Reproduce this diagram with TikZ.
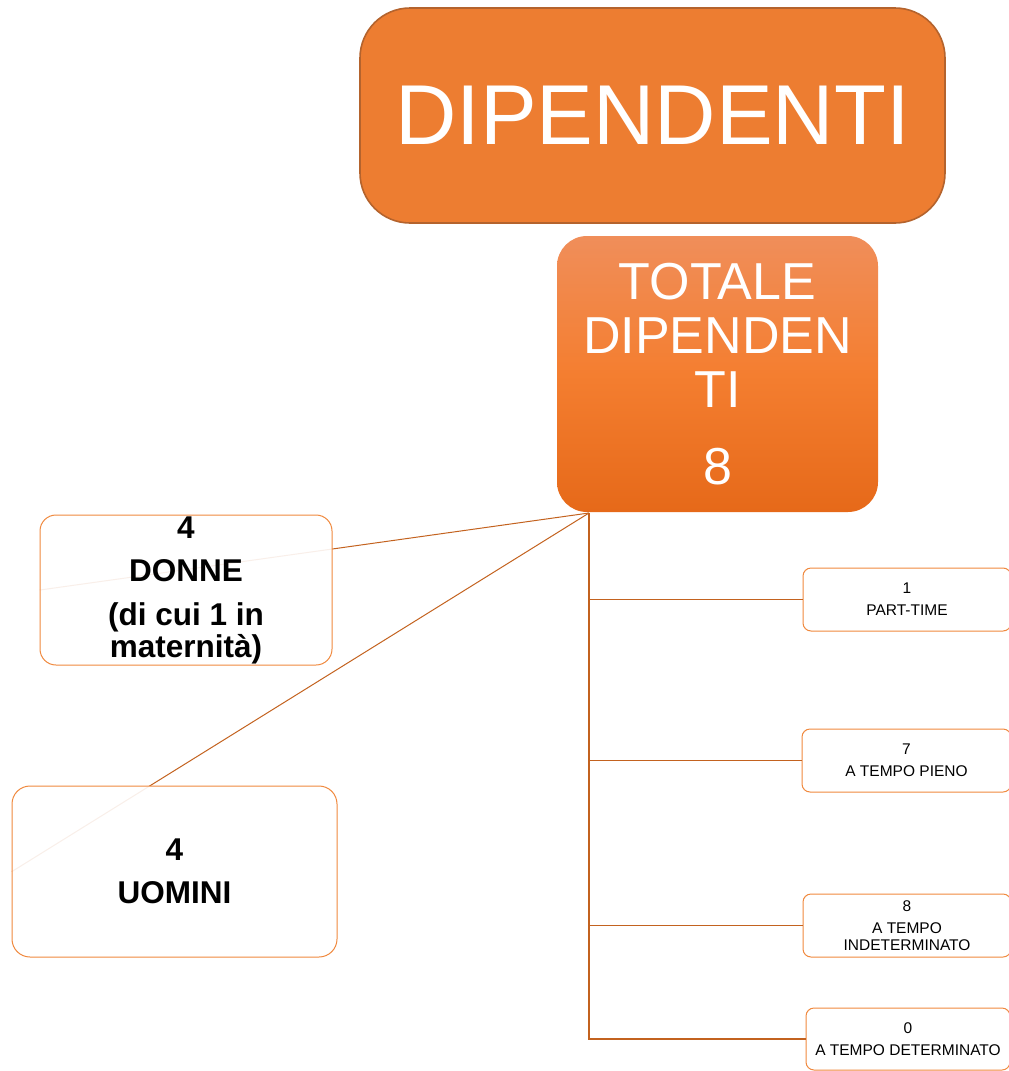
\documentclass[tikz,border=0pt]{standalone}
\usepackage{fontspec}
\setmainfont{Liberation Sans}
\definecolor{orangefill}{HTML}{ED7D31}
\definecolor{orangedark}{HTML}{B4632D}
\definecolor{linkcol}{HTML}{C3621F}
\definecolor{boxline}{HTML}{F0893E}
\definecolor{gradtop}{HTML}{F08E5A}
\definecolor{gradmid}{HTML}{F47E30}
\definecolor{gradbot}{HTML}{E66919}
\begin{document}
\begin{tikzpicture}[x=1pt,y=-1pt,
  titlebox/.style={draw=orangedark,line width=1.6pt,fill=orangefill,rounded corners=50pt,
    text=white,font=\fontsize{85}{90}\selectfont,inner sep=0pt,align=center},
  totalbox/.style={rounded corners=30pt,top color=gradtop,bottom color=gradbot,middle color=gradmid,
    text=white,font=\fontsize{52}{54}\selectfont,inner sep=0pt,align=center},
  bigbox/.style={draw=boxline,line width=1pt,fill=white,fill opacity=0.9,text opacity=1,
    rounded corners=16pt,font=\bfseries\fontsize{31.5}{32}\selectfont,inner sep=0pt,align=center},
  smallbox/.style={draw=boxline,line width=1pt,fill=white,rounded corners=8pt,
    font=\fontsize{15.5}{17}\selectfont,inner sep=0pt,align=center},
  link/.style={draw=linkcol,line width=1pt},
  trunk/.style={draw=linkcol,line width=1.2pt}
]
\useasboundingbox (0,0) rectangle (1009,1071);

\node[titlebox,minimum width=585pt,minimum height=215pt] (title) at (652.5,115.5) {DIPENDENTI};

\node[totalbox,minimum width=321pt,minimum height=276pt] (tot) at (717.5,374) {TOTALE\\DIPENDEN\\TI\\[23pt]8};

\coordinate (hub) at (589,513);

% right-hand boxes
\node[smallbox,minimum width=208pt,minimum height=63pt] (pt) at (907,599.5) {1\\[5pt]PART-TIME};
\node[smallbox,minimum width=209pt,minimum height=63pt] (pieno) at (906.5,760.5) {7\\[5pt]A TEMPO PIENO};
\node[smallbox,minimum width=208pt,minimum height=63pt] (indet) at (907,925.5) {8\\[5pt]A TEMPO\\INDETERMINATO};
\node[smallbox,minimum width=204pt,minimum height=62pt] (det) at (908,1039) {0\\[5pt]A TEMPO DETERMINATO};

\draw[trunk] (hub) |- (pt.west);
\draw[trunk] (hub) |- (pieno.west);
\draw[trunk] (hub) |- (indet.west);
\draw[trunk] (hub) |- (det.west);

% left boxes: links pass beneath semi-transparent boxes
\coordinate (dw) at (40,590);
\coordinate (uw) at (12,871.5);
\draw[link] (hub) -- (dw);
\draw[link] (hub) -- (uw);

\node[bigbox,minimum width=292pt,minimum height=150pt] (donne) at (186,590) {4\\[11pt]DONNE\\[12pt](di cui 1 in\\maternità)};
\node[bigbox,minimum width=325pt,minimum height=171pt,rounded corners=18pt] (uomini) at (174.5,871.5) {4\\[11pt]UOMINI};
\end{tikzpicture}
\end{document}
